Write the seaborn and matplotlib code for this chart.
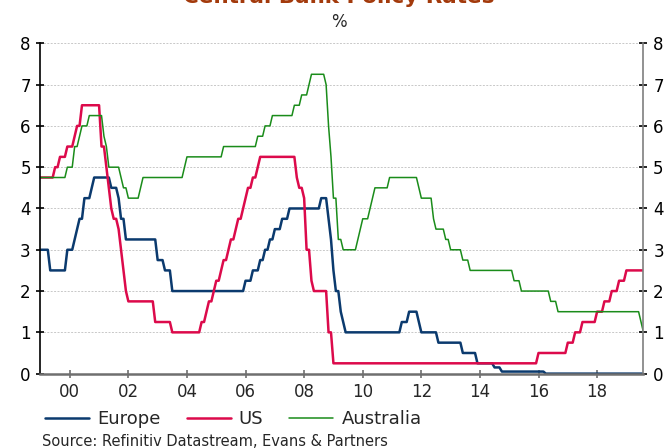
import numpy as np
import pandas as pd
import seaborn as sns
import matplotlib.pyplot as plt

## policy rate changes: month in which the new rate applied, and the new rate
eu_months = ["1998-12", "1999-04", "1999-11", "2000-02", "2000-03", "2000-04", "2000-06", "2000-09", "2000-10",
             "2001-05", "2001-08", "2001-09", "2001-11", "2002-12", "2003-03", "2003-06", "2005-12", "2006-03",
             "2006-06", "2006-08", "2006-10", "2006-12", "2007-03", "2007-06", "2008-07", "2008-10", "2008-11",
             "2008-12", "2009-01", "2009-03", "2009-04", "2009-05", "2011-04", "2011-07", "2011-11", "2011-12",
             "2012-07", "2013-05", "2013-11", "2014-06", "2014-09", "2016-03"]
eu_rates = [3.0, 2.5, 3.0, 3.25, 3.5, 3.75, 4.25, 4.5, 4.75,
            4.5, 4.25, 3.75, 3.25, 2.75, 2.5, 2.0, 2.25, 2.5,
            2.75, 3.0, 3.25, 3.5, 3.75, 4.0, 4.25, 3.75, 3.25,
            2.5, 2.0, 1.5, 1.25, 1.0, 1.25, 1.5, 1.25, 1.0,
            0.75, 0.5, 0.25, 0.15, 0.05, 0.0]

us_months = ["1998-12", "1999-06", "1999-08", "1999-11", "2000-02", "2000-03", "2000-05", "2001-01", "2001-03",
             "2001-04", "2001-05", "2001-06", "2001-08", "2001-09", "2001-10", "2001-11", "2001-12", "2002-11",
             "2003-06", "2004-06", "2004-08", "2004-09", "2004-11", "2004-12", "2005-02", "2005-03", "2005-05",
             "2005-06", "2005-08", "2005-09", "2005-11", "2005-12", "2006-01", "2006-03", "2006-05", "2006-06",
             "2007-09", "2007-10", "2007-12", "2008-01", "2008-03", "2008-04", "2008-10", "2008-12", "2015-12",
             "2016-12", "2017-03", "2017-06", "2017-12", "2018-03", "2018-06", "2018-09", "2018-12"]
us_rates = [4.75, 5.0, 5.25, 5.5, 5.75, 6.0, 6.5, 5.5, 5.0,
            4.5, 4.0, 3.75, 3.5, 3.0, 2.5, 2.0, 1.75, 1.25,
            1.0, 1.25, 1.5, 1.75, 2.0, 2.25, 2.5, 2.75, 3.0,
            3.25, 3.5, 3.75, 4.0, 4.25, 4.5, 4.75, 5.0, 5.25,
            4.75, 4.5, 4.25, 3.0, 2.25, 2.0, 1.0, 0.25, 0.5,
            0.75, 1.0, 1.25, 1.5, 1.75, 2.0, 2.25, 2.5]

au_months = ["1998-12", "1999-11", "2000-02", "2000-04", "2000-05", "2000-08", "2001-02", "2001-03", "2001-04",
             "2001-09", "2001-10", "2001-12", "2002-05", "2002-06", "2003-11", "2003-12", "2005-03", "2006-05",
             "2006-08", "2006-11", "2007-08", "2007-11", "2008-02", "2008-03", "2008-09", "2008-10", "2008-11",
             "2008-12", "2009-02", "2009-04", "2009-10", "2009-11", "2009-12", "2010-03", "2010-04", "2010-05",
             "2010-11", "2011-11", "2011-12", "2012-05", "2012-06", "2012-10", "2012-12", "2013-05", "2013-08",
             "2015-02", "2015-05", "2016-05", "2016-08", "2019-06", "2019-07"]
au_rates = [4.75, 5.0, 5.5, 5.75, 6.0, 6.25, 5.75, 5.5, 5.0,
            4.75, 4.5, 4.25, 4.5, 4.75, 5.0, 5.25, 5.5, 5.75,
            6.0, 6.25, 6.5, 6.75, 7.0, 7.25, 7.0, 6.0, 5.25,
            4.25, 3.25, 3.0, 3.25, 3.5, 3.75, 4.0, 4.25, 4.5,
            4.75, 4.5, 4.25, 3.75, 3.5, 3.25, 3.0, 2.75, 2.5,
            2.25, 2.0, 1.75, 1.5, 1.25, 1.0]

last_month = "2019-07"
tick_years = [2000, 2002, 2004, 2006, 2008, 2010, 2012, 2014, 2016, 2018]
tick_labels = ["00", "02", "04", "06", "08", "10", "12", "14", "16", "18"]


def monthly(months, rates):
    # month-end level of the policy rate
    s = pd.Series(rates, index=pd.PeriodIndex(months, freq="M"))
    full = pd.period_range(months[0], last_month, freq="M")
    s = s.reindex(full).ffill()
    x = full.year + full.month / 12.0
    return pd.DataFrame({"year": np.asarray(x), "rate": s.values})


eu = monthly(eu_months, eu_rates)
us = monthly(us_months, us_rates)
au = monthly(au_months, au_rates)

sns.set_style("white")
plt.rcParams["font.family"] = ["DejaVu Sans"]

fig = plt.figure(figsize=(6.68, 4.48), dpi=100)
ax = fig.add_axes([0.0606, 0.166, 0.9027, 0.7373])

ax.yaxis.grid(True, color="#c8c8c8", linestyle=(0, (2, 1.5)), linewidth=0.7)
ax.set_axisbelow(True)

sns.lineplot(data=eu, x="year", y="rate", ax=ax, color="#0b3a6e", linewidth=1.8, label="Europe")
sns.lineplot(data=us, x="year", y="rate", ax=ax, color="#dc0a4b", linewidth=1.8, label="US")
sns.lineplot(data=au, x="year", y="rate", ax=ax, color="#1a8c1a", linewidth=1.1, label="Australia")

ax.set_xlim(1999.0, eu["year"].iloc[-1])
ax.set_ylim(0, 8)
ax.set_yticks(range(0, 9))
ax.set_xticks(tick_years)
ax.set_xticklabels(tick_labels)
ax.set_xlabel("")
ax.set_ylabel("")

ax.spines["top"].set_visible(False)
ax.spines["left"].set_color("black")
ax.spines["left"].set_linewidth(1.2)
ax.spines["right"].set_visible(True)
ax.spines["right"].set_color("#7f7f7f")
ax.spines["right"].set_linewidth(1.2)
ax.spines["bottom"].set_color("#6f6f6f")
ax.spines["bottom"].set_linewidth(1.8)

ax.tick_params(axis="y", which="both", left=True, labelleft=True,
               direction="inout", length=6, width=1.2, labelsize=12, pad=9.5, colors="black")
ax.tick_params(axis="y", which="both", right=True, labelright=True, pad=4)
for t in ax.yaxis.get_ticklines()[1::2]:
    t.set_color("#7f7f7f")
ax.tick_params(axis="x", bottom=True, direction="inout", length=6, width=1.2, color="#6f6f6f",
               labelsize=12, pad=4)

ax.legend(loc="center left", bbox_to_anchor=(45 / 668, 1 - 419 / 448), bbox_transform=fig.transFigure,
          ncol=3, frameon=False, borderaxespad=0, borderpad=0,
          fontsize=13, handlelength=2.44, handletextpad=0.44, columnspacing=1.45)

fig.text(0.507, 1 - 3 / 448, "Central Bank Policy Rates", ha="center", va="baseline",
         fontsize=15.5, fontweight="bold", color="#a33a0c")
fig.text(0.507, 1 - 22 / 448, "%", ha="center", va="center", fontsize=12)
fig.text(0.063, 1 - 441 / 448, "Source: Refinitiv Datastream, Evans & Partners", ha="left", va="center",
         fontsize=10.5)

fig.savefig("out.png", dpi=100)
